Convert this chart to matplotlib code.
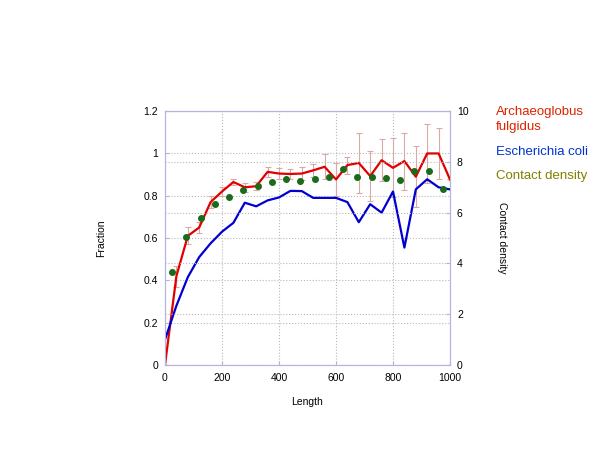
import numpy as np
import matplotlib.pyplot as plt

plt.rcParams['font.family'] = ['Liberation Sans', 'DejaVu Sans']

# data
length = np.arange(0, 1001, 40)
archaeo = [0.0, 0.42, 0.61, 0.65, 0.77, 0.82, 0.865, 0.84, 0.845, 0.913, 0.905, 0.903, 0.905,
           0.92, 0.937, 0.877, 0.945, 0.955, 0.893, 0.968, 0.932, 0.964, 0.89, 1.0, 1.0, 0.877]
archaeo_err = [0.0, 0.05, 0.04, 0.025, 0.03, 0.02, 0.015, 0.02, 0.02, 0.025, 0.025, 0.025, 0.03,
               0.03, 0.06, 0.08, 0.04, 0.14, 0.12, 0.10, 0.14, 0.135, 0.145, 0.14, 0.12, 0.0]
ecoli = [0.12, 0.28, 0.415, 0.51, 0.575, 0.63, 0.672, 0.767, 0.75, 0.778, 0.792, 0.823, 0.822,
         0.79, 0.79, 0.79, 0.77, 0.675, 0.76, 0.72, 0.82, 0.555, 0.83, 0.878, 0.84, 0.83]
dens_x = np.arange(25, 1000, 50)
density = [3.65, 5.05, 5.8, 6.33, 6.6, 6.89, 7.07, 7.19, 7.32, 7.26,
           7.31, 7.41, 7.72, 7.39, 7.39, 7.35, 7.28, 7.64, 7.66, 6.92]

fig = plt.figure(figsize=(6, 4.5), dpi=100)
ax = fig.add_axes([0.275, 0.189, 0.475, 0.564])
ax2 = ax.twinx()

frame = '#b4b4dc'
grid = '#b8b8b8'

ax.errorbar(length, archaeo, yerr=archaeo_err, fmt='none', ecolor='#dba8a8', elinewidth=0.8,
            capsize=2, capthick=0.8, zorder=2)
ax.plot(length, archaeo, color='#e00000', lw=1.6, zorder=3)
ax.plot(length, ecoli, color='#0000d0', lw=1.6, zorder=3)
ax2.plot(dens_x, density, 'o', color='#1a6b1a', ms=4, zorder=4)

ax.set_xlim(0, 1000)
ax.set_ylim(0, 1.2)
ax2.set_ylim(0, 10)
ax.set_xticks([0, 200, 400, 600, 800, 1000])
ax.set_yticks([0, 0.2, 0.4, 0.6, 0.8, 1, 1.2])
ax.set_yticklabels(['0', '0.2', '0.4', '0.6', '0.8', '1', '1.2'])
ax2.set_yticks([0, 2, 4, 6, 8, 10])

ax.grid(True, ls=':', color=grid, lw=0.8)
ax2.grid(True, axis='y', ls=':', color=grid, lw=0.8)
ax.set_axisbelow(True)

for a in (ax, ax2):
    for s in a.spines.values():
        s.set_color(frame)
    a.tick_params(colors=frame, labelcolor='black', labelsize=7.5, length=3, direction='in')
ax.tick_params(axis='x', pad=6)
ax.tick_params(axis='y', pad=5)
ax2.tick_params(axis='y', pad=5)

ax.set_xlabel('Length', fontsize=7.5, labelpad=10)
ax.set_ylabel('Fraction', fontsize=7.5, labelpad=27)
ax2.set_ylabel('Contact density', fontsize=7.5, rotation=-90, labelpad=28, va='top')

# legend as coloured text
fig.text(0.827, 1 - 112 / 450, 'Archaeoglobus', color='#dd2200', fontsize=9.5, va='center')
fig.text(0.827, 1 - 127 / 450, 'fulgidus', color='#dd2200', fontsize=9.5, va='center')
fig.text(0.827, 1 - 152 / 450, 'Escherichia coli', color='#0033cc', fontsize=9.5, va='center')
fig.text(0.827, 1 - 176 / 450, 'Contact density', color='#808000', fontsize=9.5, va='center')

fig.savefig('out.png', dpi=100)
